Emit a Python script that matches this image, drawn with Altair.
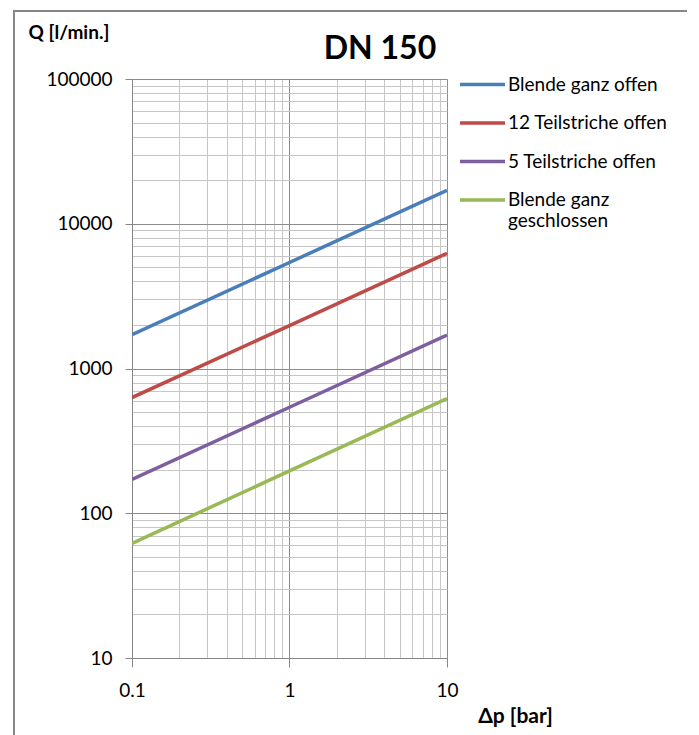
import altair as alt
import pandas as pd

# ---- data ----
dp = [0.1, 1, 10]
series = ["Blende ganz offen", "12 Teilstriche offen", "5 Teilstriche offen", "Blende ganz geschlossen"]
q_blue = [1710, 5400, 17000]
q_red = [630, 1980, 6250]
q_purple = [171, 540, 1700]
q_green = [62, 196, 620]
colors = ["#4a7ebb", "#be4b48", "#7d5fa0", "#98b954"]
chart_title = "DN 150"

x_tick_values = [round(m * 10 ** e, 6) for e in [-1, 0] for m in range(1, 10)] + [10]
y_tick_values = [round(m * 10 ** e) for e in [1, 2, 3, 4] for m in range(1, 10)] + [100000]

rows = []
for name, vals in zip(series, [q_blue, q_red, q_purple, q_green]):
    for x, q in zip(dp, vals):
        rows.append({"series": name, "dp": x, "q": q})
df = pd.DataFrame(rows)

FONT = "Lato"
major = "abs(log(datum.value)/LN10 - round(log(datum.value)/LN10)) < 0.001"
grid_color = {"condition": {"test": major, "value": "#8c8c8c"}, "value": "#c6c6c6"}
tick_color = {"condition": {"test": major, "value": "#868686"}, "value": "transparent"}

x_axis = alt.Axis(
    values=x_tick_values, format="~g", labelExpr=f"{major} ? datum.label : ''",
    grid=True, gridColor=grid_color, gridWidth=1, tickColor=tick_color, tickSize=9,
    domainColor="#868686", labelFont=FONT, labelFontSize=19, labelColor="#000",
    labelBaseline="middle", labelPadding=23, labelOverlap=False, labelFlush=False,
    title="Δp [bar]", titleFont=FONT, titleFontSize=21, titleFontWeight="bold", titleColor="#000",
    titleX=383, titleY=64, titleAlign="center", titleBaseline="alphabetic",
)
y_axis = alt.Axis(
    values=y_tick_values, format="d", labelExpr=f"{major} ? datum.label : ''",
    grid=True, gridColor=grid_color, gridWidth=1, tickColor=tick_color, tickSize=7,
    domainColor="#868686", labelFont=FONT, labelFontSize=19, labelColor="#000",
    labelPadding=13, labelOverlap=False, labelFlush=False,
    title="Q [l/min.]", titleFont=FONT, titleFontSize=19, titleFontWeight="bold", titleColor="#000",
    titleAngle=0, titleX=-104, titleY=-41, titleAlign="left", titleBaseline="alphabetic",
)

lines = alt.Chart(df).mark_line(strokeWidth=3.5, clip=True).encode(
    x=alt.X("dp:Q", scale=alt.Scale(type="log", domain=[0.1, 10], nice=False), axis=x_axis),
    y=alt.Y("q:Q", scale=alt.Scale(type="log", domain=[10, 100000], nice=False), axis=y_axis),
    color=alt.Color(
        "series:N", sort=series,
        scale=alt.Scale(domain=series, range=colors),
        legend=alt.Legend(
            title=None, orient="none", legendX=326, legendY=-19,
            symbolType="stroke", symbolSize=2025, symbolStrokeWidth=3.5,
            labelFont=FONT, labelFontSize=19, labelColor="#000", labelOffset=1,
            labelLimit=300, rowPadding=3.5,
            labelExpr="datum.label == 'Blende ganz geschlossen' ? ['Blende ganz', 'geschlossen'] : datum.label",
        ),
    ),
)

border = alt.Chart(pd.DataFrame({"k": [0]})).mark_rect(
    fillOpacity=0, stroke="#868686", strokeWidth=2, clip=False
).encode(
    x=alt.value(-118), x2=alt.value(557), y=alt.value(-68), y2=alt.value(720)
)

title_text = alt.Chart(pd.DataFrame({"t": [chart_title]})).mark_text(
    font=FONT, fontSize=32, fontWeight="bold", color="#000",
    align="center", baseline="alphabetic", clip=False
).encode(
    text="t:N", x=alt.value(248), y=alt.value(-20)
)

chart = alt.layer(border, lines, title_text).properties(
    width=315, height=579,
    autosize=alt.AutoSizeParams(type="none"),
    padding={"left": 124, "top": 71, "right": 240, "bottom": 80},
).configure_view(stroke=None).configure(background="white")

chart.save("out.html", embed_options={"renderer": "svg", "actions": False})
